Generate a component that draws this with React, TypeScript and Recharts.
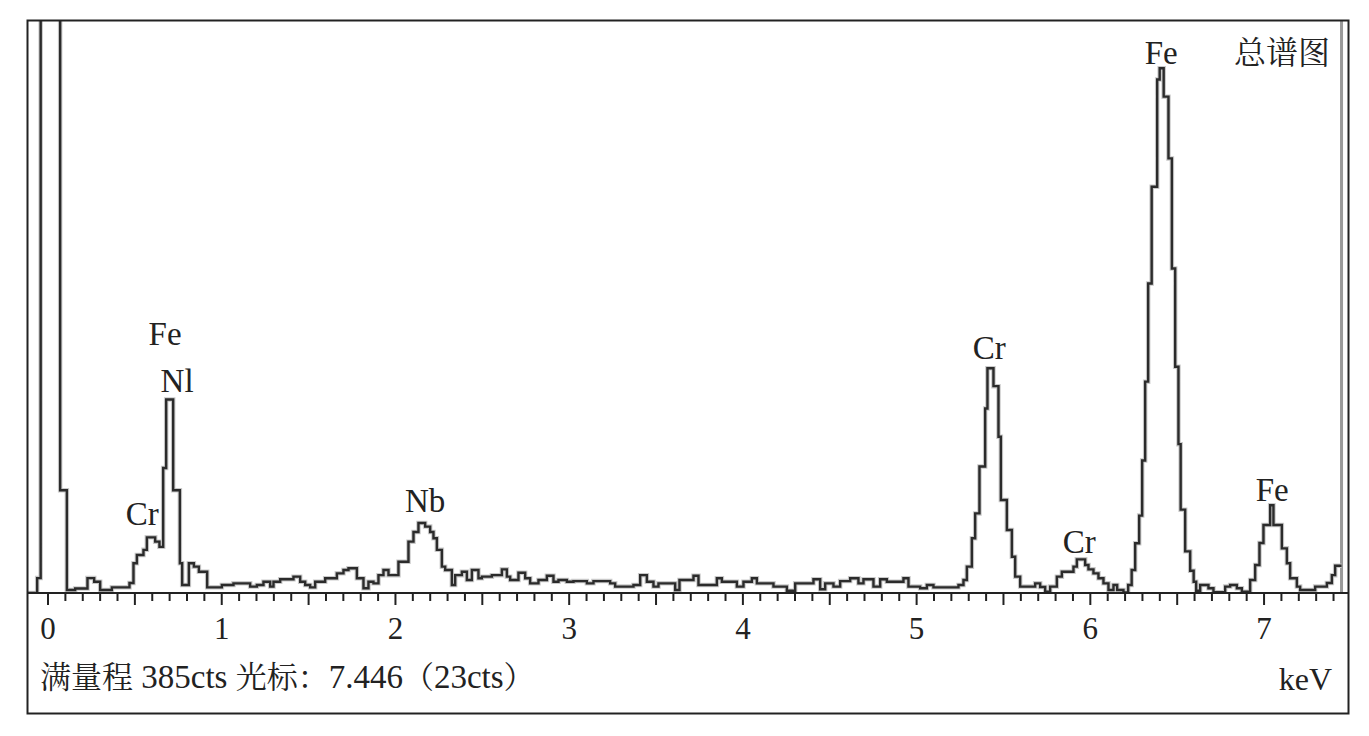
import React from 'react';
import { LineChart, Line, XAxis, YAxis, ReferenceDot, ReferenceLine } from 'recharts';

// Spectrum as step breakpoints: [energy keV (channel start), counts]
const zeroPeak: [number, number][] = [
  [-0.12, 0], [-0.0625, 10], [-0.0423, 1000], [0.0699, 69], [0.1085, 2],
  [0.1563, 3], [0.2271, 10], [0.2657, 7.6], [0.3002, 2], [0.3675, 3.8],
];
const lowPeaks: [number, number][] = [
  [0.4689, 6.7], [0.4919, 20], [0.5115, 25.5], [0.5494, 29], [0.569, 37.4],
  [0.6168, 34.5], [0.6415, 31], [0.6628, 84], [0.6801, 130], [0.7204, 69],
  [0.759, 20], [0.7722, 5.4], [0.8108, 20], [0.8396, 17.7], [0.8684, 14.3],
  [0.9161, 3.8], [1.0007, 5.4], [1.0675, 6.5], [1.1636, 4.3], [1.2022, 5.4],
  [1.2402, 7.6], [1.2788, 4.3], [1.2978, 7.6], [1.3364, 9.2], [1.4129, 11],
  [1.4515, 7.6], [1.4803, 5.4], [1.5091, 3.8], [1.5378, 7.6], [1.5954, 9.9],
  [1.6627, 13.2], [1.7007, 15.5], [1.7295, 16.6], [1.7779, 9.9], [1.8159, 3.2],
  [1.8446, 7.6], [1.8734, 6.5], [1.9022, 12], [1.931, 15.5], [1.9598, 12],
];
const nbRegion: [number, number][] = [
  [2.0173, 21], [2.0749, 34.5], [2.1037, 41], [2.1324, 47], [2.171, 44.6],
  [2.1998, 41], [2.2188, 36.8], [2.2384, 29], [2.2671, 17.7], [2.2862, 15.5],
  [2.3247, 5.4], [2.3437, 12], [2.3823, 14.3], [2.4111, 8.7], [2.4399, 15.5],
  [2.4778, 9.9], [2.4974, 11], [2.555, 12], [2.6126, 15.9], [2.6413, 11],
  [2.6603, 8.7], [2.7081, 13.6], [2.7467, 9.9], [2.7754, 6.5], [2.8232, 8.7],
  [2.8716, 11.6], [2.9096, 7.6], [2.9384, 8.7], [2.9867, 7.6], [3.0247, 8],
];
const background: [number, number][] = [
  [3.1018, 6.5], [3.1398, 8], [3.236, 6.5], [3.2647, 4.3], [3.3701, 5.4],
  [3.4087, 12], [3.4472, 7.6], [3.4852, 4.3], [3.514, 6.5], [3.6101, 2],
  [3.6349, 8.7], [3.7155, 11.6], [3.7443, 5.4], [3.8502, 9.9], [3.879, 7.6],
  [3.9653, 4.3], [4.0033, 7.6], [4.0517, 9.9], [4.0804, 6.5], [4.176, 4.3],
  [4.2531, 1.5], [4.3009, 6.5], [4.4062, 9.2], [4.4448, 2.5], [4.4736, 6.5],
  [4.5214, 4.3], [4.5599, 8], [4.6175, 9.9], [4.6652, 6.5], [4.694, 9.2],
  [4.7516, 4.3], [4.7902, 9.2], [4.8287, 7.6], [4.9243, 9.9], [4.9531, 4.3],
  [5.0204, 3.2], [5.059, 5.4], [5.097, 3.8],
];
const crRegion: [number, number][] = [
  [5.2409, 5.4], [5.2697, 8.7], [5.2893, 17.7], [5.318, 36.8], [5.337, 53.5],
  [5.3618, 85], [5.3946, 124], [5.4078, 151], [5.4424, 139], [5.4712, 105],
  [5.485, 62.5], [5.5195, 42.3], [5.5483, 24.4], [5.5673, 11], [5.5961, 4.3],
  [5.6824, 6.5], [5.7112, 4], [5.74, 0.9], [5.7688, 4.3], [5.8073, 11],
  [5.8361, 14.3], [5.9029, 17.7], [5.9224, 22.6], [5.9702, 18.8], [5.9892, 15.9],
  [6.018, 13.2], [6.0468, 9.9], [6.0756, 6.5], [6.1044, 2], [6.1332, 5.4],
  [6.1545, 2], [6.1907, 0.3],
];
const feRegion: [number, number][] = [
  [6.2178, 5.4], [6.2379, 15.5], [6.2581, 33.4], [6.2811, 52], [6.2984, 89],
  [6.3156, 142], [6.3329, 208], [6.3531, 273], [6.3848, 345], [6.3992, 352.6],
  [6.4222, 333.5], [6.4498, 292], [6.4694, 218], [6.4884, 152], [6.5073, 100],
  [6.52, 56], [6.5459, 28], [6.5747, 15], [6.5948, 7.6], [6.6092, 1.5],
  [6.6323, 5.4], [6.68, 3.2], [6.7088, 0.5], [6.7762, 4.3], [6.8049, 5.4],
  [6.8435, 3.2], [6.8723, 0.9], [6.92, 8.7], [6.9488, 18.8], [6.9736, 33.6],
  [6.9966, 45.7], [7.0352, 59], [7.0541, 45.7], [7.1025, 30], [7.1313, 20],
  [7.1501, 9.9], [7.1888, 4.3], [7.2078, 2], [7.2942, 4.3], [7.3616, 6.7],
  [7.3904, 12], [7.4093, 18.3], [7.446, 18.3],
];

const majorTickLabels = [0, 1, 2, 3, 4, 5, 6, 7];
const tickTenths = Array.from({ length: 75 }, (_, i) => i); // 0.0 .. 7.4 keV

const peakLabels = [
  { text: 'Fe', e: 0.674, c: 174.7 },
  { text: 'Nl', e: 0.743, c: 143.1 },
  { text: 'Cr', e: 0.542, c: 53.8 },
  { text: 'Nb', e: 2.171, c: 62.5 },
  { text: 'Cr', e: 5.418, c: 165.3 },
  { text: 'Cr', e: 5.936, c: 34.9 },
  { text: 'Fe', e: 6.408, c: 363.5 },
  { text: 'Fe', e: 7.047, c: 69.9 },
];

const cursorKeV = 7.446;
const titleText = '总谱图';
// footer: [text, isLatin]
const footerParts: [string, boolean][] = [
  ['满量程', false], [' 385cts ', true], ['光标：', false], ['7.446', true],
  ['（', false], ['23cts', true], ['）', false],
];
const unitText = 'keV';

const FONT = "'Liberation Serif', 'Noto Serif CJK SC', 'Noto Sans CJK SC', serif";
const INK = '#222';

const data = [...zeroPeak, ...lowPeaks, ...nbRegion, ...background, ...crRegion, ...feRegion].map(
  ([e, c]) => ({ e, c })
);

const AxisTick = (props: any) => {
  const { x, y, payload } = props;
  const tenths = Math.round(payload.value * 10);
  const long = tenths % 5 === 0;
  const isInt = tenths % 10 === 0 && majorTickLabels.includes(tenths / 10);
  return (
    <g>
      <line x1={x} x2={x} y1={y} y2={y + (long ? 12 : 8)} stroke={INK} strokeWidth={2} />
      {isInt && (
        <text x={x} y={y + 46} textAnchor="middle" fontSize={31} fontFamily={FONT} fill={INK}>
          {tenths / 10}
        </text>
      )}
    </g>
  );
};

export default function App() {
  const W = 1361;
  const H = 712;
  return (
    <div style={{ position: 'relative', width: W, height: H }}>
      <LineChart
        width={W}
        height={H}
        data={data}
        margin={{ top: 12, right: 20, bottom: 87, left: 19 }}
      >
        <XAxis
          dataKey="e"
          type="number"
          domain={[-0.121, 7.489]}
          allowDataOverflow
          ticks={tickTenths.map((t) => t / 10)}
          interval={0}
          tick={<AxisTick />}
          tickLine={false}
          tickSize={0}
          tickMargin={0}
          height={40}
          axisLine={{ stroke: INK, strokeWidth: 2 }}
        />
        <YAxis hide domain={[0, 385]} allowDataOverflow />
        <ReferenceLine x={cursorKeV} stroke="#9a9a9a" strokeWidth={3} />
        <Line
          dataKey="c"
          type="stepAfter"
          dot={false}
          activeDot={false}
          stroke="#c9c9c9"
          strokeWidth={4.5}
          isAnimationActive={false}
        />
        <Line
          dataKey="c"
          type="stepAfter"
          dot={false}
          activeDot={false}
          stroke="#2b2b2b"
          strokeWidth={2.4}
          isAnimationActive={false}
        />
        {peakLabels.map((p, i) => (
          <ReferenceDot
            key={i}
            x={p.e}
            y={p.c}
            r={1}
            fill="none"
            stroke="none"
            label={{ value: p.text, position: 'center', fontSize: 33, fontFamily: FONT, fill: INK }}
          />
        ))}
      </LineChart>
      <svg
        width={W}
        height={H}
        style={{ position: 'absolute', left: 0, top: 0, pointerEvents: 'none' }}
      >
        <rect x={19.5} y={12.5} width={1321} height={693} fill="none" stroke={INK} strokeWidth={2} />
        <text x={1322} y={56} textAnchor="end" fontSize={32} fontFamily={FONT} fill={INK}>
          {titleText}
        </text>
        <text x={32} y={680} fontSize={31} fontFamily={FONT} fill={INK} style={{ whiteSpace: 'pre' }}>
          {footerParts.map(([t, latin], i) => (
            <tspan key={i} fontSize={latin ? 33 : 31}>
              {t}
            </tspan>
          ))}
        </text>
        <text x={1324} y={682} textAnchor="end" fontSize={32} fontFamily={FONT} fill={INK}>
          {unitText}
        </text>
      </svg>
    </div>
  );
}
